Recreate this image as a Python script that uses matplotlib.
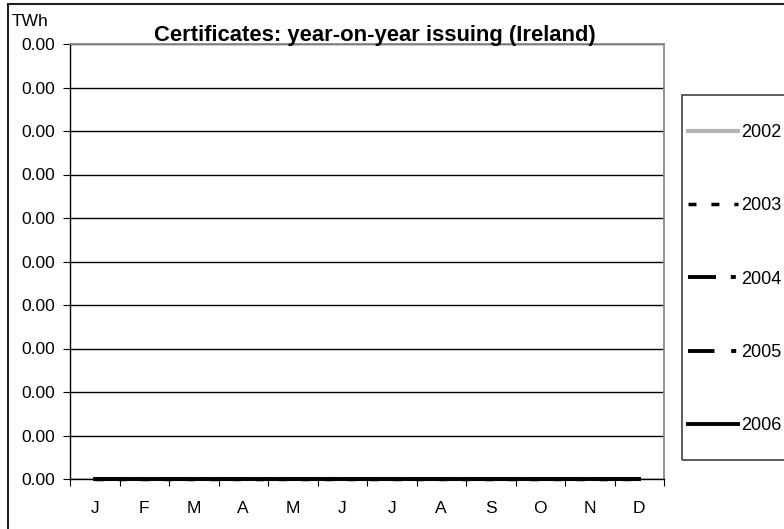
import matplotlib
matplotlib.use("Agg")
import matplotlib.pyplot as plt
from matplotlib.ticker import FormatStrFormatter
from matplotlib.patches import Rectangle
import numpy as np

plt.rcParams['font.family'] = ['Liberation Sans', 'DejaVu Sans']

months = ['J', 'F', 'M', 'A', 'M', 'J', 'J', 'A', 'S', 'O', 'N', 'D']
years = ['2002', '2003', '2004', '2005', '2006']
issuing = {
    '2002': [0, 0, 0, 0, 0, 0, 0, 0, 0, 0, 0, 0],
    '2003': [0, 0, 0, 0, 0, 0, 0, 0, 0, 0, 0, 0],
    '2004': [0, 0, 0, 0, 0, 0, 0, 0, 0, 0, 0, 0],
    '2005': [0, 0, 0, 0, 0, 0, 0, 0, 0, 0, 0, 0],
    '2006': [0, 0, 0, 0, 0, 0, 0, 0, 0, 0, 0, 0],
}
ytick_vals = [0, 0.0001, 0.0002, 0.0003, 0.0004, 0.0005, 0.0006, 0.0007, 0.0008, 0.0009, 0.001]

styles = {
    '2002': dict(color='#b4b4b4', lw=3.0, linestyle='-'),
    '2003': dict(color='black', lw=2.5, linestyle=(0, (2.3, 4.3))),
    '2004': dict(color='black', lw=2.8, linestyle=(0, (7.2, 3.8, 1.3, 3.8))),
    '2005': dict(color='black', lw=2.8, linestyle=(0, (6.8, 4.3, 1.3, 4.3))),
    '2006': dict(color='black', lw=2.8, linestyle='-'),
}

W, H = 784, 529
fig = plt.figure(figsize=(W / 100, H / 100), dpi=100)
fig.patch.set_facecolor('white')

# outer chart border
fig.patches.append(Rectangle((8 / W, -0.1), 1.0, 1.1 - 4 / H, transform=fig.transFigure,
                             fill=False, edgecolor='#202020', lw=1.5, figure=fig))
# legend frame
fig.patches.append(Rectangle((682 / W, 1 - 460 / H), 0.5, (460 - 95) / H,
                             transform=fig.transFigure, fill=False,
                             edgecolor='#404040', lw=1.2, figure=fig))

ax = fig.add_axes([70 / W, 1 - 479 / H, (664 - 70) / W, (479 - 44) / H])
x = np.arange(len(months))
for y in years:
    ax.plot(x, issuing[y], label=y, clip_on=False, zorder=3, **styles[y])

ax.set_xlim(-0.5, len(months) - 0.5)
ax.set_ylim(ytick_vals[0], ytick_vals[-1])
ax.set_yticks(ytick_vals)
ax.yaxis.set_major_formatter(FormatStrFormatter('%.2f'))
ax.yaxis.grid(True, color='black', lw=1.0)
ax.set_axisbelow(True)

ax.set_xticks(np.arange(len(months) + 1) - 0.5)
ax.set_xticklabels([])
ax.set_xticks(x, minor=True)
ax.set_xticklabels(months, minor=True)
ax.tick_params(axis='x', which='minor', length=0, pad=16, labelsize=12.5)
ax.tick_params(axis='x', which='major', length=5, direction='out', color='black')
ax.tick_params(axis='y', length=5, direction='out', labelsize=12.5, pad=6)

for s in ['left', 'bottom']:
    ax.spines[s].set_color('black')
    ax.spines[s].set_linewidth(1.0)
for s in ['top', 'right']:
    ax.spines[s].set_color('#8a8a8a')
    ax.spines[s].set_linewidth(1.3)

fig.text(375 / W, 1 - 35 / H, 'Certificates: year-on-year issuing (Ireland)',
         ha='center', va='center', fontsize=15.8, fontweight='bold')
fig.text(12 / W, 1 - 21 / H, 'TWh', ha='left', va='center', fontsize=12.5)

leg = ax.legend(loc='upper left', bbox_to_anchor=(688 / W, 1 - 124 / H),
                bbox_transform=fig.transFigure, fontsize=13, frameon=False,
                handlelength=2.75, handletextpad=0.2,
                labelspacing=3.12, borderpad=0, borderaxespad=0)

fig.savefig('out.png', dpi=100)
